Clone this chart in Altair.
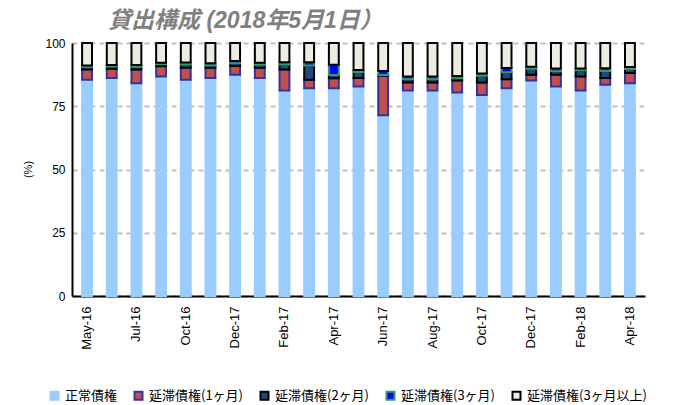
import json
import altair as alt
import pandas as pd

# ---- data ----
TICK_LABELS = ["May-16", "Jul-16", "Oct-16", "Dec-17", "Feb-17", "Apr-17",
               "Jun-17", "Aug-17", "Oct-17", "Dec-17", "Feb-18", "Apr-18"]

SERIES = ["正常債権", "延滞債権(1ヶ月)", "延滞債権(2ヶ月)", "延滞債権(3ヶ月)", "延滞債権(3ヶ月以上)"]

NORMAL = [85.5, 86.2, 84.1, 86.8, 85.5, 86.2, 87.5, 86.2, 81.2, 82.1, 82.1, 82.8,
          71.4, 81.2, 81.2, 80.4, 79.4, 82.1, 85.2, 82.8, 81.2, 83.5, 84.1]
LATE_1M = [4.0, 3.6, 5.4, 4.0, 4.7, 4.0, 3.4, 4.0, 8.3, 3.4, 4.0, 3.4,
           15.7, 3.2, 3.2, 4.8, 5.0, 3.6, 2.3, 4.7, 5.6, 2.7, 4.0]
LATE_2M = [1.0, 0.9, 1.1, 0.8, 1.3, 0.9, 1.1, 1.2, 2.0, 5.6, 1.3, 2.3,
           0.3, 1.3, 1.3, 0.9, 2.7, 2.7, 2.3, 1.3, 2.4, 2.7, 1.6]
LATE_3M = [0.6, 0.6, 0.7, 0.6, 0.8, 0.9, 0.9, 0.8, 0.9, 1.3, 4.0, 0.8,
           1.5, 1.1, 1.1, 0.9, 0.8, 1.7, 0.8, 1.1, 0.7, 1.1, 0.8]
LATE_3M_PLUS = [8.9, 8.7, 8.7, 7.8, 7.7, 8.0, 7.1, 7.8, 7.6, 7.6, 8.6, 10.7,
                11.1, 13.2, 13.2, 13.0, 12.1, 9.9, 9.4, 10.1, 10.1, 10.0, 9.5]

FILLS = ["#99CCFF", "#C0504D", "#1F497D", "#0000FF", "#EEECE1"]
STROKES = ["#99CCFF", "#333399", "#000000", "#339966", "#000000"]

rows = []
for i in range(len(NORMAL)):
    for k, (name, vals) in enumerate(zip(SERIES, [NORMAL, LATE_1M, LATE_2M, LATE_3M, LATE_3M_PLUS])):
        rows.append({"idx": i, "series": name, "order": k, "value": vals[i]})
df = pd.DataFrame(rows)

label_expr = json.dumps(TICK_LABELS) + "[floor(datum.value / 2)]"

CJK = '"Noto Sans CJK JP", sans-serif'
LAT = '"Liberation Sans", Arial, sans-serif'

legend = alt.Legend(
    title=None, orient="none", direction="horizontal", legendX=-24, legendY=346,
    symbolType="square", symbolSize=64, symbolStrokeWidth=2, symbolOffset=0,
    labelFont=CJK, labelFontSize=13, labelColor="black", columnPadding=12,
    labelOffset=4, labelLimit=300,
)

chart = alt.Chart(df).mark_bar(strokeWidth=2).encode(
    x=alt.X("idx:O", sort=None,
            scale=alt.Scale(paddingInner=0.6, paddingOuter=0.41),
            axis=alt.Axis(values=list(range(0, len(NORMAL), 2)), labelExpr=label_expr,
                          labelAngle=-90, labelAlign="right", labelBaseline="middle",
                          title=None, ticks=False, domainColor="black", domainWidth=2,
                          labelFont=LAT, labelFontSize=13, labelColor="black",
                          labelPadding=10)),
    y=alt.Y("value:Q", stack="zero",
            scale=alt.Scale(domain=[0, 100], nice=False),
            axis=alt.Axis(values=[0, 25, 50, 75, 100], title="(%)", grid=True,
                          gridDash=[5, 4], gridColor="#C0C0C0", gridWidth=2,
                          domainColor="black", domainWidth=2, ticks=False,
                          labelFont=LAT, labelFontSize=12, labelColor="black",
                          labelPadding=7, titleFont=LAT, titleFontSize=11,
                          titleFontWeight="normal", titleColor="black",
                          titleX=-44, titleY=126, titleAngle=-90,
                          titleAlign="center", titleBaseline="middle")),
    fill=alt.Fill("series:N", scale=alt.Scale(domain=SERIES, range=FILLS), legend=legend),
    stroke=alt.Stroke("series:N", scale=alt.Scale(domain=SERIES, range=STROKES), legend=legend),
    order=alt.Order("order:Q"),
).properties(
    width=573, height=253,
    autosize=alt.AutoSizeParams(type="none"),
    padding={"left": 64, "top": 35, "right": 20, "bottom": 112},
    title=alt.TitleParams(
        "貸出構成 (2018年5月1日）", anchor="start", dx=86, offset=4,
        font='"Liberation Sans", "Noto Sans CJK JP", sans-serif', fontSize=23,
        fontStyle="italic", fontWeight="bold", color="#808080"),
).configure_view(stroke=None)

chart.save("out.html", embed_options={"renderer": "svg", "actions": False})
